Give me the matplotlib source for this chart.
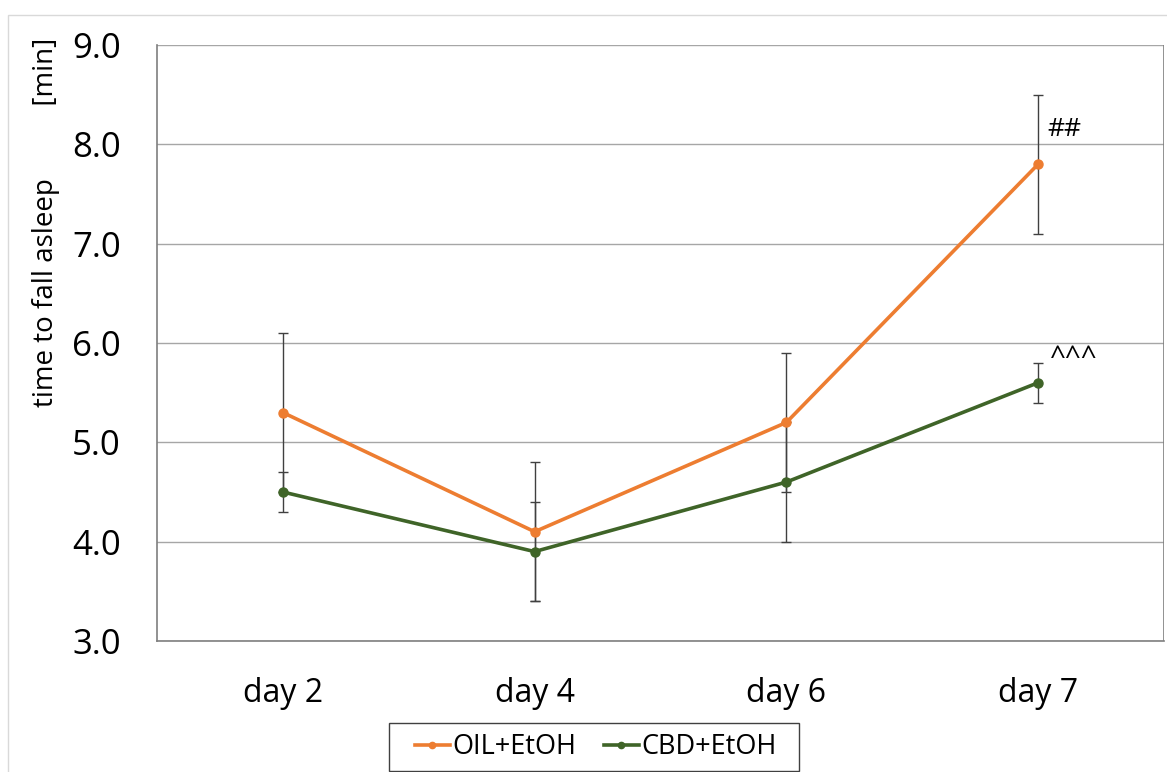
import matplotlib
matplotlib.use("Agg")
import matplotlib.pyplot as plt
from matplotlib.patches import Rectangle
from matplotlib.lines import Line2D

plt.rcParams['font.family'] = ['Open Sans', 'DejaVu Sans']

days = ["day 2", "day 4", "day 6", "day 7"]
oil = [5.3, 4.1, 5.2, 7.8]
oil_err = [0.8, 0.7, 0.7, 0.7]
cbd = [4.5, 3.9, 4.6, 5.6]
cbd_err = [0.2, 0.5, 0.6, 0.2]
yticks = [3.0, 4.0, 5.0, 6.0, 7.0, 8.0, 9.0]
series_names = ["OIL+EtOH", "CBD+EtOH"]
colors = ['#ED7D31', '#3F6428']

W, H = 1167, 772
fig = plt.figure(figsize=(W / 100, H / 100), dpi=100)
fig.patches.append(Rectangle((8 / W, -0.1), 1.2, 1 - 15 / H + 0.1, transform=fig.transFigure,
                             fill=False, edgecolor='#d9d9d9', linewidth=1.0))
ax = fig.add_axes([157 / W, 1 - 641 / H, (1164 - 157) / W, (641 - 45) / H])

x = list(range(len(days)))
for vals, errs, c in [(oil, oil_err, colors[0]), (cbd, cbd_err, colors[1])]:
    ax.errorbar(x, vals, yerr=errs, color=c, lw=2.6, marker='o', ms=6.5,
                ecolor='#404040', elinewidth=1.0, capsize=3.5, capthick=1.0, zorder=3)

ax.set_xlim(-0.5, 3.5)
ax.set_ylim(3.0, 9.0)
ax.set_yticks(yticks)
ax.set_yticklabels([f"{v:.1f}" for v in yticks], fontsize=25)
ax.set_xticks(x)
ax.set_xticklabels(days, fontsize=23)
ax.tick_params(axis='x', length=0, pad=26)
ax.tick_params(axis='y', length=0, pad=26)
ax.grid(axis='y', color='#a6a6a6', linewidth=1.0)
ax.set_axisbelow(True)
for s in ['top', 'right']:
    ax.spines[s].set_visible(False)
for s in ['left', 'bottom']:
    ax.spines[s].set_color('#7f7f7f')
    ax.spines[s].set_linewidth(1.2)
ax.axvline(3.5, color='#7f7f7f', lw=1.2)

ax.text(3.035, 8.15, "##", fontsize=19, ha='left', va='center')
ax.text(3.045, 5.85, "^^^", fontsize=20, ha='left', va='center')

fig.text(46 / W, 1 - 222 / H, "time to fall asleep          [min]", rotation=90,
         fontsize=20, ha='center', va='center')

# legend frame drawn to match the reference box
fig.patches.append(Rectangle((389 / W, 1 - 771 / H), (799 - 389) / W, (771 - 723) / H,
                             transform=fig.transFigure, fill=True, facecolor='white',
                             edgecolor='#404040', linewidth=1.0, zorder=5))
handles = [Line2D([], [], color=c, lw=2.6, marker='o', ms=4.5) for c in colors]
leg = fig.legend(handles, series_names, loc='center', bbox_to_anchor=(596 / W, 1 - 747 / H),
                 ncol=2, fontsize=19.5, frameon=False,
                 handlelength=1.3, handletextpad=0.1, columnspacing=1.0, borderpad=0.0,
                 borderaxespad=0)
leg.set_zorder(6)

fig.savefig("out.png", dpi=100)
